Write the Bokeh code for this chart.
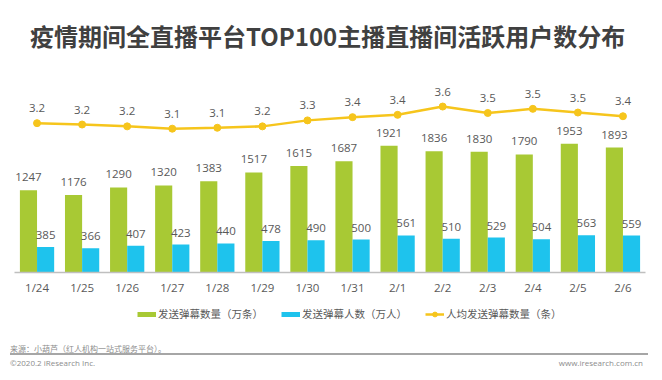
from bokeh.plotting import figure
from bokeh.layouts import column
from bokeh.models import (ColumnDataSource, FactorRange, Range1d, Legend,
                          LegendItem, Div)
from bokeh.transform import dodge
from bokeh.core.properties import value
from bokeh.embed import file_html
from bokeh.resources import INLINE

# ---- data ----
dates = ["1/24", "1/25", "1/26", "1/27", "1/28", "1/29", "1/30",
         "1/31", "2/1", "2/2", "2/3", "2/4", "2/5", "2/6"]
danmu = [1247, 1176, 1290, 1320, 1383, 1517, 1615,
         1687, 1921, 1836, 1830, 1790, 1953, 1893]          # 发送弹幕数量（万条）
users = [385, 366, 407, 423, 440, 478, 490,
         500, 561, 510, 529, 504, 563, 559]                 # 发送弹幕人数（万人）
avg_values = [3.24, 3.21, 3.17, 3.12, 3.14, 3.17, 3.30,
              3.37, 3.42, 3.60, 3.46, 3.55, 3.47, 3.39]     # 人均发送弹幕数量（条）
avg_labels = ["3.2", "3.2", "3.2", "3.1", "3.1", "3.2", "3.3",
              "3.4", "3.4", "3.6", "3.5", "3.5", "3.5", "3.4"]

title_text = "疫情期间全直播平台TOP100主播直播间活跃用户数分布"
series_names = ["发送弹幕数量（万条）", "发送弹幕人数（万人）", "人均发送弹幕数量（条）"]
source_text = "来源：小葫芦（红人机构一站式服务平台）。"
copyright_text = "©2020.2 iResearch Inc."
site_text = "www.iresearch.com.cn"

GREEN = "#a8c934"
BLUE = "#1ec3ed"
YELLOW = "#f6c51c"
GRAY = "#595959"

src = ColumnDataSource(dict(
    date=dates, danmu=danmu, users=users, avg=avg_values,
    danmu_lbl=[str(v) for v in danmu],
    users_lbl=[str(v) for v in users],
    avg_lbl=avg_labels,
))

# ---------------- title ----------------
title_html = (
    '<div style="position:relative;width:662px;height:60px;">'
    '<div style="position:absolute;left:30px;top:20px;font-family:\'Noto Sans CJK SC\';'
    'font-weight:bold;font-size:24px;line-height:32px;color:#404040;white-space:nowrap;">'
    + title_text + '</div></div>'
)
title_div = Div(text=title_html, width=662, height=60, margin=(0, 0, 0, 0))

# ---------------- main chart ----------------
p = figure(width=662, height=240,
           x_range=FactorRange(factors=dates, range_padding=0),
           y_range=Range1d(0, 2910),
           output_backend="svg", toolbar_location=None,
           min_border_left=14, min_border_right=17,
           min_border_top=20, min_border_bottom=28)
p.extra_y_ranges = {"avg": Range1d(0, 4.165)}

p.outline_line_color = None
p.xgrid.visible = False
p.ygrid.visible = False
p.yaxis.visible = False

ax = p.xaxis[0]
ax.axis_line_color = "#bfbfbf"
ax.axis_line_width = 1.5
ax.major_tick_line_color = None
ax.minor_tick_line_color = None
ax.major_tick_out = 0
ax.major_label_standoff = 7
ax.major_label_text_font = "Open Sans"
ax.major_label_text_font_size = "11.5px"
ax.major_label_text_color = GRAY

xg = dodge("date", -0.19, range=p.x_range)
xb = dodge("date", 0.19, range=p.x_range)

p.vbar(x=xg, top="danmu", width=0.38, source=src, fill_color=GREEN, line_color=None)
p.vbar(x=xb, top="users", width=0.38, source=src, fill_color=BLUE, line_color=None)

p.line(x="date", y="avg", source=src, y_range_name="avg",
       line_color=YELLOW, line_width=2.5)
p.scatter(x="date", y="avg", source=src, y_range_name="avg",
          size=7, fill_color=YELLOW, line_color=YELLOW)

lbl_kw = dict(text_align="center", text_baseline="middle",
              text_font=value("Open Sans"), text_font_size="11.5px",
              text_color=GRAY, source=src)
p.text(x=xg, y="danmu", text="danmu_lbl", y_offset=-13, **lbl_kw)
p.text(x=xb, y="users", text="users_lbl", y_offset=-12, **lbl_kw)
p.text(x="date", y="avg", text="avg_lbl", y_offset=-15, y_range_name="avg", **lbl_kw)

# ---------------- legend strip ----------------
lg = figure(width=662, height=40, x_range=Range1d(0, 1), y_range=Range1d(0, 1),
            output_backend="svg", toolbar_location=None,
            x_axis_location=None, y_axis_location=None, min_border=0)
lg.outline_line_color = None
lg.xgrid.visible = False
lg.ygrid.visible = False

# legend key proxies: a single point each, kept outside the visible range
proxy = ColumnDataSource(dict(x=[-5.0], y=[-5.0]))
g_proxy = lg.line(x="x", y="y", source=proxy, line_color=GREEN, line_width=5, line_cap="butt")
b_proxy = lg.line(x="x", y="y", source=proxy, line_color=BLUE, line_width=5, line_cap="butt")
y_line = lg.line(x="x", y="y", source=proxy, line_color=YELLOW, line_width=2.5)
y_dot = lg.scatter(x="x", y="y", source=proxy, size=7, fill_color=YELLOW, line_color=YELLOW)

legend = Legend(items=[
    LegendItem(label=series_names[0], renderers=[g_proxy]),
    LegendItem(label=series_names[1], renderers=[b_proxy]),
    LegendItem(label=series_names[2], renderers=[y_line, y_dot]),
], orientation="horizontal", location=(123, 19),
    glyph_width=19, glyph_height=12, label_height=12, label_standoff=2,
    spacing=18, padding=0, margin=0,
    border_line_color=None, background_fill_alpha=0,
    label_text_font="Noto Sans CJK SC", label_text_font_size="10.5px",
    label_text_color=GRAY)
lg.add_layout(legend)

# ---------------- footer ----------------
footer_html = (
    '<div style="position:relative;width:662px;height:40px;color:#8c8c8c;">'
    '<div style="position:absolute;left:10px;top:3px;font-family:\'Noto Sans CJK SC\';'
    'font-size:8px;line-height:12px;white-space:nowrap;">' + source_text + '</div>'
    '<div style="position:absolute;left:10px;top:13px;width:638px;height:1.5px;'
    'background:#a6a6a6;"></div>'
    '<div style="position:absolute;left:10px;top:17px;font-family:\'Open Sans\';'
    'font-size:8px;line-height:12px;white-space:nowrap;">' + copyright_text + '</div>'
    '<div style="position:absolute;right:19px;top:17px;font-family:\'Open Sans\';'
    'font-size:8px;line-height:12px;white-space:nowrap;">' + site_text + '</div>'
    '</div>'
)
footer = Div(text=footer_html, width=662, height=40, margin=(0, 0, 0, 0))

layout = column(title_div, p, lg, footer, spacing=0)
open("out.html", "w").write(file_html(layout, INLINE))
